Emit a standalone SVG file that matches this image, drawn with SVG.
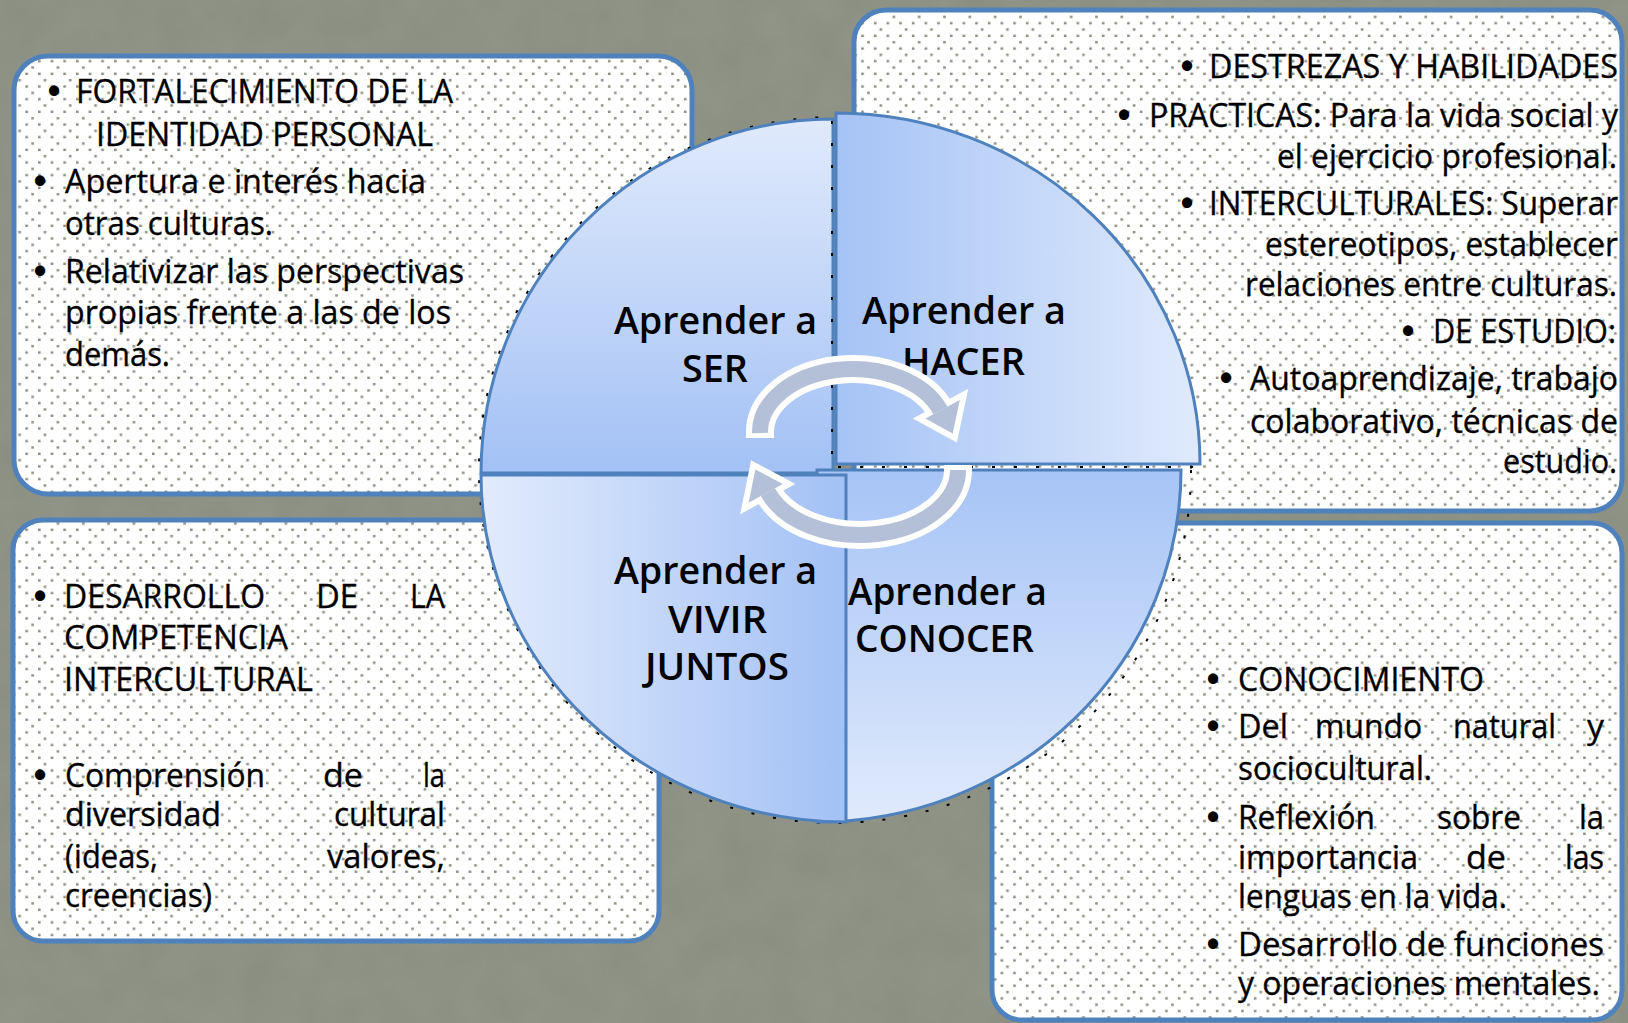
<svg xmlns="http://www.w3.org/2000/svg" width="1628" height="1023" viewBox="0 0 1628 1023">
  <defs>
    <pattern id="dots" patternUnits="userSpaceOnUse" width="25.33" height="25.33">
      <rect width="25.33" height="25.33" fill="#ffffff"/>
      <rect x="18.3" y="3" width="2.6" height="2.4" fill="#8a8d80"/>
      <rect x="0" y="9.3" width="2.6" height="2.4" fill="#8a8d80"/>
      <rect x="12.67" y="9.3" width="2.6" height="2.4" fill="#8a8d80"/>
      <rect x="6" y="15.7" width="2.6" height="2.4" fill="#8a8d80"/>
      <rect x="0" y="22" width="2.6" height="2.4" fill="#8a8d80"/>
      <rect x="12.67" y="22" width="2.6" height="2.4" fill="#8a8d80"/>
    </pattern>
    <filter id="grain" x="0" y="0" width="100%" height="100%">
      <feTurbulence type="fractalNoise" baseFrequency="0.025" numOctaves="3" seed="4"/>
      <feColorMatrix type="matrix" values="0 0 0 0 0.35  0 0 0 0 0.37  0 0 0 0 0.32  0 0 0 0.35 0"/>
    </filter>
    <linearGradient id="gSer" x1="0" y1="0" x2="0" y2="1">
      <stop offset="0" stop-color="#e0eafc"/>
      <stop offset="1" stop-color="#a3c1f5"/>
    </linearGradient>
    <linearGradient id="gHacer" x1="0" y1="0" x2="1" y2="0">
      <stop offset="0" stop-color="#a5c3f5"/>
      <stop offset="1" stop-color="#e0eafc"/>
    </linearGradient>
    <linearGradient id="gVivir" x1="0" y1="0" x2="1" y2="0">
      <stop offset="0" stop-color="#e2ebfc"/>
      <stop offset="1" stop-color="#a3c1f5"/>
    </linearGradient>
    <linearGradient id="gConocer" x1="0" y1="0" x2="0" y2="1">
      <stop offset="0" stop-color="#a6c4f6"/>
      <stop offset="1" stop-color="#e0eafc"/>
    </linearGradient>
    <style>
      .box { fill: url(#dots); stroke: #4f81bd; stroke-width: 5; }
      .quad { stroke: #4f81bd; stroke-width: 3; }
      .t { font-family: "Open Sans", "Liberation Sans", sans-serif; font-size: 32px; fill: #000; stroke: #000; stroke-width: 0.35; }
      .lbl { font-family: "Open Sans", "Liberation Sans", sans-serif; font-size: 38px; font-weight: 600; fill: #000; }
      .bul { font-family: "Liberation Sans", sans-serif; font-size: 36px; font-weight: bold; fill: #000; text-anchor: middle; }
      .dash { fill: none; stroke: #000; stroke-width: 2; stroke-dasharray: 3 19; }
      .arrW { fill: none; stroke: #ffffff; stroke-width: 28; }
      .arrG { fill: none; stroke: #b3c0d7; stroke-width: 16; }
      .headW { fill: #ffffff; stroke: #ffffff; stroke-width: 12; stroke-linejoin: miter; }
      .headG { fill: #b3c0d7; }
    </style>
  </defs>

  <rect width="1628" height="1023" fill="#8a8e80"/>
  <rect width="1628" height="1023" filter="url(#grain)"/>

  <!-- Text boxes -->
  <g id="box-ser">
    <rect class="box" x="14" y="56" width="678" height="438" rx="34" ry="34"/>
    <text class="bul" x="54" y="103">•</text>
    <text class="t" x="76" y="103" textLength="377" lengthAdjust="spacingAndGlyphs">FORTALECIMIENTO DE LA</text>
    <text class="t" x="96" y="146" textLength="337" lengthAdjust="spacingAndGlyphs">IDENTIDAD PERSONAL</text>
    <text class="bul" x="40" y="193">•</text>
    <text class="t" x="65" y="193" textLength="361" lengthAdjust="spacingAndGlyphs">Apertura e interés hacia</text>
    <text class="t" x="65" y="235" textLength="208" lengthAdjust="spacingAndGlyphs">otras culturas.</text>
    <text class="bul" x="40" y="283">•</text>
    <text class="t" x="65" y="283" textLength="399" lengthAdjust="spacingAndGlyphs">Relativizar las perspectivas</text>
    <text class="t" x="65" y="324" textLength="386" lengthAdjust="spacingAndGlyphs">propias frente a las de los</text>
    <text class="t" x="65" y="366" textLength="105" lengthAdjust="spacingAndGlyphs">demás.</text>
  </g>

  <g id="box-hacer">
    <rect class="box" x="854" y="10" width="768" height="501" rx="32" ry="32"/>
    <text class="bul" x="1187" y="78">•</text>
    <text class="t" x="1209" y="78" textLength="409" lengthAdjust="spacingAndGlyphs">DESTREZAS Y HABILIDADES</text>
    <text class="bul" x="1124" y="127">•</text>
    <text class="t" x="1149" y="127" textLength="469" lengthAdjust="spacingAndGlyphs">PRACTICAS: Para la vida social y</text>
    <text class="t" x="1277" y="168" textLength="340" lengthAdjust="spacingAndGlyphs">el ejercicio profesional.</text>
    <text class="bul" x="1187" y="215">•</text>
    <text class="t" x="1209" y="215" textLength="409" lengthAdjust="spacingAndGlyphs">INTERCULTURALES: Superar</text>
    <text class="t" x="1265" y="256" textLength="353" lengthAdjust="spacingAndGlyphs">estereotipos, establecer</text>
    <text class="t" x="1245" y="296" textLength="372" lengthAdjust="spacingAndGlyphs">relaciones entre culturas.</text>
    <text class="bul" x="1408" y="343">•</text>
    <text class="t" x="1433" y="343" textLength="183" lengthAdjust="spacingAndGlyphs">DE ESTUDIO:</text>
    <text class="bul" x="1226" y="390">•</text>
    <text class="t" x="1250" y="390" textLength="368" lengthAdjust="spacingAndGlyphs">Autoaprendizaje, trabajo</text>
    <text class="t" x="1250" y="433" textLength="368" lengthAdjust="spacingAndGlyphs">colaborativo, técnicas de</text>
    <text class="t" x="1503" y="473" textLength="114" lengthAdjust="spacingAndGlyphs">estudio.</text>
  </g>

  <g id="box-vivir">
    <rect class="box" x="13" y="520" width="646" height="421" rx="30" ry="30"/>
    <text class="bul" x="40" y="608">•</text>
    <text class="t" x="64" y="608" textLength="201" lengthAdjust="spacingAndGlyphs">DESARROLLO</text>
    <text class="t" x="316" y="608" textLength="42" lengthAdjust="spacingAndGlyphs">DE</text>
    <text class="t" x="410" y="608" textLength="35" lengthAdjust="spacingAndGlyphs">LA</text>
    <text class="t" x="64" y="649" textLength="224" lengthAdjust="spacingAndGlyphs">COMPETENCIA</text>
    <text class="t" x="64" y="691" textLength="249" lengthAdjust="spacingAndGlyphs">INTERCULTURAL</text>
    <text class="bul" x="40" y="787">•</text>
    <text class="t" x="65" y="787" textLength="200" lengthAdjust="spacingAndGlyphs">Comprensión</text>
    <text class="t" x="323" y="787" textLength="40" lengthAdjust="spacingAndGlyphs">de</text>
    <text class="t" x="423" y="787" textLength="22" lengthAdjust="spacingAndGlyphs">la</text>
    <text class="t" x="65" y="826" textLength="156" lengthAdjust="spacingAndGlyphs">diversidad</text>
    <text class="t" x="334" y="826" textLength="111" lengthAdjust="spacingAndGlyphs">cultural</text>
    <text class="t" x="65" y="868" textLength="93" lengthAdjust="spacingAndGlyphs">(ideas,</text>
    <text class="t" x="327" y="868" textLength="118" lengthAdjust="spacingAndGlyphs">valores,</text>
    <text class="t" x="65" y="907" textLength="147" lengthAdjust="spacingAndGlyphs">creencias)</text>
  </g>

  <g id="box-conocer">
    <rect class="box" x="992" y="523" width="630" height="497" rx="30" ry="30"/>
    <text class="bul" x="1213" y="691">•</text>
    <text class="t" x="1238" y="691" textLength="246" lengthAdjust="spacingAndGlyphs">CONOCIMIENTO</text>
    <text class="bul" x="1213" y="738">•</text>
    <text class="t" x="1238" y="738" textLength="50" lengthAdjust="spacingAndGlyphs">Del</text>
    <text class="t" x="1315" y="738" textLength="107" lengthAdjust="spacingAndGlyphs">mundo</text>
    <text class="t" x="1453" y="738" textLength="103" lengthAdjust="spacingAndGlyphs">natural</text>
    <text class="t" x="1587" y="738" textLength="17" lengthAdjust="spacingAndGlyphs">y</text>
    <text class="t" x="1238" y="780" textLength="194" lengthAdjust="spacingAndGlyphs">sociocultural.</text>
    <text class="bul" x="1213" y="829">•</text>
    <text class="t" x="1238" y="829" textLength="137" lengthAdjust="spacingAndGlyphs">Reflexión</text>
    <text class="t" x="1437" y="829" textLength="84" lengthAdjust="spacingAndGlyphs">sobre</text>
    <text class="t" x="1579" y="829" textLength="25" lengthAdjust="spacingAndGlyphs">la</text>
    <text class="t" x="1238" y="869" textLength="180" lengthAdjust="spacingAndGlyphs">importancia</text>
    <text class="t" x="1466" y="869" textLength="40" lengthAdjust="spacingAndGlyphs">de</text>
    <text class="t" x="1565" y="869" textLength="39" lengthAdjust="spacingAndGlyphs">las</text>
    <text class="t" x="1238" y="908" textLength="269" lengthAdjust="spacingAndGlyphs">lenguas en la vida.</text>
    <text class="bul" x="1213" y="956">•</text>
    <text class="t" x="1238" y="956" textLength="366" lengthAdjust="spacingAndGlyphs">Desarrollo de funciones</text>
    <text class="t" x="1238" y="995" textLength="362" lengthAdjust="spacingAndGlyphs">y operaciones mentales.</text>
  </g>

  <!-- dashed outline behind circle -->
  <ellipse class="dash" cx="835" cy="470" rx="356" ry="353"/>

  <!-- Circle quadrants -->
  <g id="quad-ser">
    <path class="quad" fill="url(#gSer)" d="M833,473 L481,473 A352,354 0 0 1 833,119 Z"/>
  </g>
  <path class="dash" d="M832,121 V472"/>
  <g id="quad-hacer">
    <path class="quad" fill="url(#gHacer)" d="M836,464 L836,113 A364,351 0 0 1 1200,464 Z"/>
  </g>
  <g id="quad-conocer">
    <path class="quad" fill="url(#gConocer)" d="M817,470 L1181,470 A364,352 0 0 1 817,822 Z"/>
  </g>
  <g id="quad-vivir">
    <path class="quad" fill="url(#gVivir)" d="M846,475 L846,822 A365,347 0 0 1 481,475 Z"/>
  </g>
  <path class="dash" d="M838,467 H1200"/>

  <!-- Quadrant labels -->
  <g id="label-ser">
    <text class="lbl" x="614" y="334" textLength="203" lengthAdjust="spacingAndGlyphs">Aprender a</text>
    <text class="lbl" x="682" y="382" textLength="66" lengthAdjust="spacingAndGlyphs">SER</text>
  </g>
  <g id="label-hacer">
    <text class="lbl" x="862" y="324" textLength="204" lengthAdjust="spacingAndGlyphs">Aprender a</text>
    <text class="lbl" x="902" y="375" textLength="123" lengthAdjust="spacingAndGlyphs">HACER</text>
  </g>
  <g id="label-vivir">
    <text class="lbl" x="614" y="584" textLength="203" lengthAdjust="spacingAndGlyphs">Aprender a</text>
    <text class="lbl" x="668" y="633" textLength="99" lengthAdjust="spacingAndGlyphs">VIVIR</text>
    <text class="lbl" x="645" y="680" textLength="144" lengthAdjust="spacingAndGlyphs">JUNTOS</text>
  </g>
  <g id="label-conocer">
    <text class="lbl" x="848" y="605" textLength="199" lengthAdjust="spacingAndGlyphs">Aprender a</text>
    <text class="lbl" x="855" y="652" textLength="179" lengthAdjust="spacingAndGlyphs">CONOCER</text>
  </g>

  <!-- Cycle arrows -->
  <g id="connectors">
    <path class="arrW" d="M760,438 L760,432 A93,63 0 0 1 940.4,410.5"/>
    <polygon class="headW" points="959.8,400.1 952.7,433.4 925.4,418.5"/>
    <path class="arrW" d="M958,465 L958,470 A98,65 0 0 1 767.9,492.2"/>
    <polygon class="headW" points="748.6,502.8 755.4,469.4 782.8,484.0"/>
    <path class="arrG" d="M760,433 A93,63 0 0 1 940.4,410.5"/>
    <polygon class="headG" points="959.8,400.1 952.7,433.4 925.4,418.5"/>
    <path class="arrG" d="M958,470 A98,65 0 0 1 767.9,492.2"/>
    <polygon class="headG" points="748.6,502.8 755.4,469.4 782.8,484.0"/>
  </g>
</svg>
